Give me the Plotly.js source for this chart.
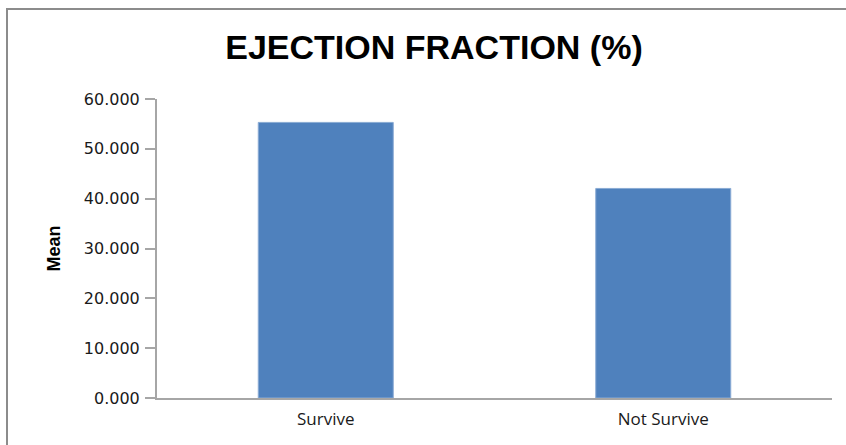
<!DOCTYPE html>
<html>
<head>
<meta charset="utf-8">
<script src="https://cdn.plot.ly/plotly-3.0.1.min.js"></script>
<style>
  html, body { margin: 0; padding: 0; background: #ffffff; }
  #wrap { position: relative; width: 846px; height: 445px; overflow: hidden; }
  #chart { position: absolute; left: 0; top: 0; width: 846px; height: 445px; }
  #frame { position: absolute; left: 6px; top: 8px; right: -10px; bottom: -10px;
           border-left: 2px solid #8c8c8c; border-top: 2px solid #8c8c8c; pointer-events: none; }
</style>
</head>
<body>
<div id="wrap">
  <div id="chart"></div>
  <div id="frame"></div>
</div>
<script>
const categories = ["Survive", "Not Survive"];
const meanValues = [55.3, 42.05];
const yTickValues = [0, 10, 20, 30, 40, 50, 60];
const chartTitle = "EJECTION FRACTION (%)";
const yAxisTitle = "Mean";

const trace = {
  type: "bar",
  x: categories,
  y: meanValues,
  marker: { color: "#4f81bd", line: { color: "#8aabd4", width: 1 } },
  hoverinfo: "x+y"
};

const layout = {
  width: 846,
  height: 445,
  margin: { l: 157, r: 14, t: 99, b: 47, pad: 0 },
  paper_bgcolor: "#ffffff",
  plot_bgcolor: "#ffffff",
  showlegend: false,
  bargap: 0.6,
  title: {
    text: chartTitle,
    font: { family: "Liberation Sans, Arial, sans-serif", size: 34, color: "#000000", weight: 700 },
    xref: "container", x: 434 / 846, xanchor: "center",
    yref: "container", y: 1 - 47 / 445, yanchor: "middle"
  },
  xaxis: {
    type: "category",
    showline: true, linecolor: "#a6a6a6", linewidth: 2,
    ticks: "", showgrid: false, zeroline: false,
    tickfont: { family: "Open Sans, DejaVu Sans, sans-serif", size: 17, color: "#1a1a1a" },
    ticklabelstandoff: 5
  },
  yaxis: {
    range: [0, 60],
    tickvals: yTickValues,
    tickformat: ".3f",
    showline: true, linecolor: "#a6a6a6", linewidth: 2,
    ticks: "outside", ticklen: 10, tickwidth: 2, tickcolor: "#a6a6a6",
    showgrid: false, zeroline: false,
    tickfont: { family: "DejaVu Sans, Verdana, sans-serif", size: 16, color: "#1a1a1a" },
    ticklabelstandoff: 2,
    title: {
      text: yAxisTitle,
      font: { family: "Liberation Sans, Arial, sans-serif", size: 18, color: "#000000", weight: 700 },
      standoff: 19
    }
  }
};

Plotly.newPlot("chart", [trace], layout, { displayModeBar: false, staticPlot: true });
</script>
</body>
</html>
